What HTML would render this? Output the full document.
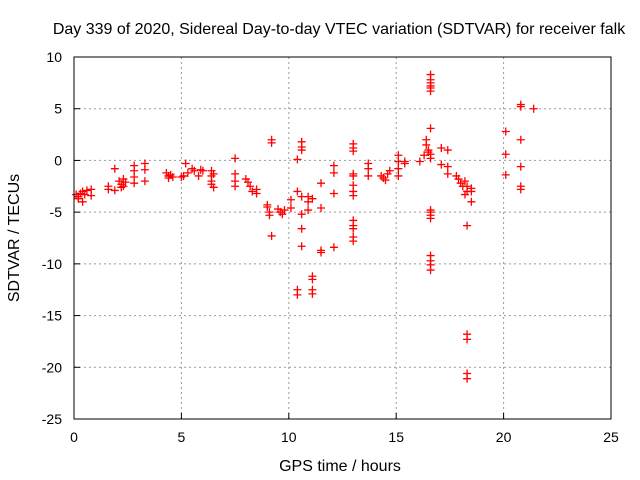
<!DOCTYPE html>
<html><head><meta charset="utf-8"><style>
body{margin:0;background:#fff}
svg{display:block;font-family:"Liberation Sans",sans-serif}
</style></head><body>
<svg id="c" width="640" height="480">
<rect width="640" height="480" fill="#fff"/>
<g id="grid"></g>
<g id="marks"></g>
<g id="axes"></g>
<text x="339" y="34" font-size="16" text-anchor="middle">Day 339 of 2020, Sidereal Day-to-day VTEC variation (SDTVAR) for receiver falk</text>
<text x="340" y="471" font-size="16" text-anchor="middle">GPS time / hours</text>
<text x="19" y="238" font-size="16" text-anchor="middle" transform="rotate(-90 19 238)">SDTVAR / TECUs</text>
</svg>
<script>
const xTicks=[0,5,10,15,20,25];
const yTicks=[10,5,0,-5,-10,-15,-20,-25];
const hours=[0.1,0.2,0.3,0.4,0.4,0.6,0.8,0.8,0.2,0.5,
1.6,1.6,1.9,1.9,2.1,2.2,2.2,2.3,2.3,2.4,
2.8,2.8,2.8,2.8,3.3,3.3,3.3,
4.3,4.4,4.4,4.5,4.6,
5.0,5.1,5.2,5.3,
5.5,5.6,5.8,5.9,6.0,
6.4,6.4,6.4,6.4,6.5,6.5,
7.5,7.5,7.5,7.5,
8.0,8.1,8.2,8.3,8.5,8.5,
9.0,9.0,9.1,9.1,9.2,9.2,9.2,
9.5,9.6,9.7,9.8,
10.1,10.1,
10.4,10.4,10.4,10.4,
10.6,10.6,10.6,10.6,10.6,10.6,10.6,
10.9,10.9,10.9,
11.1,11.1,11.1,11.1,11.1,
11.5,11.5,11.5,11.5,
12.1,12.1,12.1,12.1,
13.0,13.0,13.0,13.0,13.0,13.0,13.0,13.0,13.0,13.0,13.0,13.0,13.0,
13.7,13.7,13.7,
14.3,14.4,14.5,14.6,14.7,
15.1,15.1,15.1,15.1,15.4,15.4,16.1,
16.3,16.4,16.4,16.5,16.5,16.6,16.6,16.6,16.6,16.6,16.6,16.6,
16.6,16.6,16.6,16.6,16.6,16.6,16.6,16.6,16.6,16.6,
17.1,17.1,17.4,17.4,17.4,
17.8,17.9,18.0,18.1,18.2,18.2,
18.3,18.3,18.3,18.3,18.3,18.3,18.3,
18.5,18.5,18.5,
20.1,20.1,20.1,
20.8,20.8,20.8,20.8,20.8,20.8,21.4];
const values=[-3.3,-3.5,-3.2,-3.0,-4.0,-2.9,-3.4,-2.8,-3.7,-3.3,
-2.5,-2.8,-0.8,-2.9,-2.0,-2.3,-2.6,-1.8,-2.5,-2.1,
-0.5,-1.0,-1.6,-2.2,-0.3,-0.9,-2.0,
-1.2,-1.5,-1.7,-1.4,-1.6,
-1.6,-1.5,-0.3,-1.2,
-0.8,-1.0,-1.5,-0.9,-1.0,
-1.0,-1.5,-2.0,-2.3,-2.6,-1.3,
0.2,-1.3,-2.0,-2.5,
-1.8,-2.1,-2.5,-3.0,-3.2,-2.8,
-4.3,-4.5,-5.0,-5.3,1.7,2.0,-7.3,
-4.7,-5.0,-5.2,-4.8,
-3.8,-4.6,
0.1,-3.0,-12.5,-13.0,
1.8,1.3,1.0,-3.5,-5.2,-6.6,-8.3,
-3.5,-4.0,-4.8,
-11.2,-11.5,-12.5,-12.9,-3.7,
-4.6,-2.2,-8.9,-8.7,
-0.5,-1.2,-3.2,-8.4,
1.6,1.2,0.9,-1.3,-1.5,-2.4,-3.0,-3.4,-5.8,-6.3,-6.6,-7.4,-7.8,
-0.3,-0.8,-1.5,
-1.5,-1.7,-1.9,-1.3,-1.0,
0.5,-0.1,-0.8,-1.5,-0.1,-0.3,-0.1,
0.5,2.0,1.5,1.0,0.8,0.6,0.2,3.1,-5.0,-5.3,-5.6,-4.8,
8.3,7.8,7.5,7.2,7.0,6.7,-9.2,-9.7,-10.1,-10.6,
1.2,-0.4,1.0,-0.6,-1.3,
-1.5,-1.8,-2.2,-2.5,-2.0,-3.3,
-16.8,-17.3,-20.6,-21.1,-6.3,-2.5,-3.0,
-2.7,-3.0,-4.0,
2.8,0.6,-1.4,
5.4,5.2,2.0,-0.6,-2.5,-2.8,5.0];
const NS='http://www.w3.org/2000/svg';
const L=74,R=611,T=57,B=419;
function xs(v){return L+(v-0)/(25-0)*(R-L);}
function ys(v){return B-(v+25)/(35)*(B-T);}
function mk(tag,attrs,parent){const e=document.createElementNS(NS,tag);for(const k in attrs)e.setAttribute(k,attrs[k]);parent.appendChild(e);return e;}
const grid=document.getElementById('grid'),axes=document.getElementById('axes'),marks=document.getElementById('marks');
xTicks.forEach(t=>{
  const x=xs(t);
  if(t>0&&t<25){const g=mk('line',{x1:x,x2:x,y1:T,y2:B,stroke:'#999','stroke-dasharray':'2,3'},grid);
  
  }
  const tk=mk('line',{x1:x,x2:x,y1:B,y2:B-6,stroke:'#000'},axes);
  
  
  const lb=mk('text',{x:x,y:B+23,'font-size':14,'text-anchor':'middle'},axes);lb.textContent=t;
  
  
});
yTicks.forEach(t=>{
  const y=ys(t);
  if(t<10&&t>-25){const g=mk('line',{x1:L,x2:R,y1:y,y2:y,stroke:'#999','stroke-dasharray':'2,3'},grid);
  
  }
  const tk=mk('line',{x1:L,x2:L+6,y1:y,y2:y,stroke:'#000'},axes);
  
  
  const lb=mk('text',{x:L-12,y:y+5,'font-size':14,'text-anchor':'end'},axes);lb.textContent=t;
  
  
});
const fr=mk('rect',{x:L,y:T,width:R-L,height:B-T,fill:'none',stroke:'#000'},axes);


hours.forEach((h,i)=>{
  const x=xs(h),y=ys(values[i]);
  const p=mk('path',{d:`M${x-4},${y}H${x+4}M${x},${y-4}V${y+4}`,stroke:'#f00','stroke-width':1.3,fill:'none'},marks);
  
  
});
</script>
</body></html>
